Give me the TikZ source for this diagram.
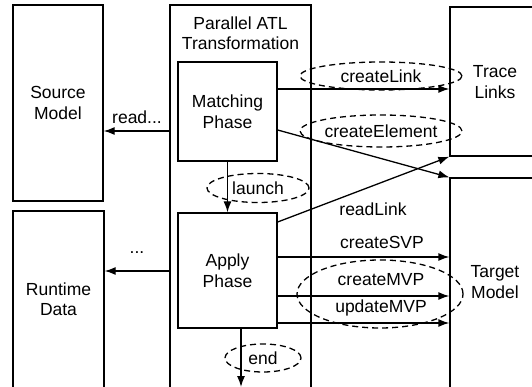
\documentclass[tikz,border=0pt]{standalone}
\usepackage{fontspec}
\setmainfont{Liberation Sans}
\usetikzlibrary{shapes.geometric,arrows.meta}
\begin{document}
\begin{tikzpicture}[x=1pt,y=-1pt, line width=1.3pt,
  font=\fontsize{17.5}{20.5}\selectfont,
  box/.style={draw, rectangle, inner sep=0pt, align=center},
  arr/.style={-{Latex[length=11pt,width=8pt]}},
  oval/.style={draw, ellipse, dash pattern=on 6pt off 4pt, inner sep=0pt},
  lbl/.style={inner sep=0pt, align=center}]
\useasboundingbox (0,0) rectangle (532,387);
\clip (0,0) rectangle (532,387);
% boxes
\node[box, minimum width=90pt, minimum height=196pt] (src) at (58,103) {Source\\Model};
\node[box, minimum width=91pt, minimum height=191pt] (rt) at (58.5,306.5) {};
\node[lbl] (trt) at (58.5,299) {Runtime\\Data};
\node[box, minimum width=141pt, minimum height=397pt] (pat) at (240.5,203.5) {};
\node[lbl] (ttl) at (240.5,33) {Parallel ATL\\Transformation};
\node[box, minimum width=99pt, minimum height=99pt] (match) at (227.5,111.5) {Matching\\Phase};
\node[box, minimum width=99pt, minimum height=115pt] (apply) at (227.5,270.5) {Apply\\Phase};
\node[box, minimum width=120pt, minimum height=149pt] (trace) at (510,81.5) {};
\node[lbl] (ttrace) at (495,82) {Trace\\Links};
\node[box, minimum width=120pt, minimum height=224pt] (target) at (510,290) {};
\node[lbl] (ttarget) at (495,282) {Target\\Model};
% helper coordinates
\coordinate (yread) at (0,131);
\coordinate (ydots) at (0,271);
\coordinate (ylink) at (0,89);
\coordinate (yelem) at (0,130);
\coordinate (yrl) at (0,222);
\coordinate (ysvp) at (0,257);
\coordinate (ycmvp) at (0,296);
\coordinate (yumvp) at (0,323);
\coordinate (xend) at (241,0);
\coordinate (endtip) at (241,387);
% connectors
\draw[arr] (pat.west |- yread) -- (src.east |- yread);
\node[lbl] (lread) at (137,117) {read...};
\draw[arr] (pat.west |- ydots) -- (rt.east |- ydots);
\node[lbl] (ldots) at (137,253) {...};
\draw[arr] (match.south) -- (apply.north);
\node[oval, minimum width=102pt, minimum height=29pt] (olaunch) at (258,188) {launch};
\draw[arr] (apply.south -| xend) -- (endtip);
\node[oval, minimum width=76pt, minimum height=28pt] (oend) at (263,358) {end};
\draw[arr] (match.east |- ylink) -- (trace.west |- ylink);
\node[oval, minimum width=162pt, minimum height=28pt] (olink) at (381,76) {createLink};
\draw[arr] (match.east |- yelem) -- (target.north west);
\node[oval, minimum width=162pt, minimum height=32pt] (oelem) at (381,131) {createElement};
\draw[arr] (apply.east |- yrl) -- (trace.south west);
\node[lbl] (lrl) at (373,209) {readLink};
\draw[arr] (apply.east |- ysvp) -- (target.west |- ysvp);
\node[lbl] (lsvp) at (382,242) {createSVP};
\draw[arr] (apply.east |- ycmvp) -- (target.west |- ycmvp);
\node[lbl] (lcmvp) at (381,280) {createMVP};
\draw[arr] (apply.east |- yumvp) -- (target.west |- yumvp);
\node[lbl] (lumvp) at (381,308) {updateMVP};
\node[oval, minimum width=166pt, minimum height=68pt] (omvp) at (380,294) {};
\end{tikzpicture}
\end{document}
